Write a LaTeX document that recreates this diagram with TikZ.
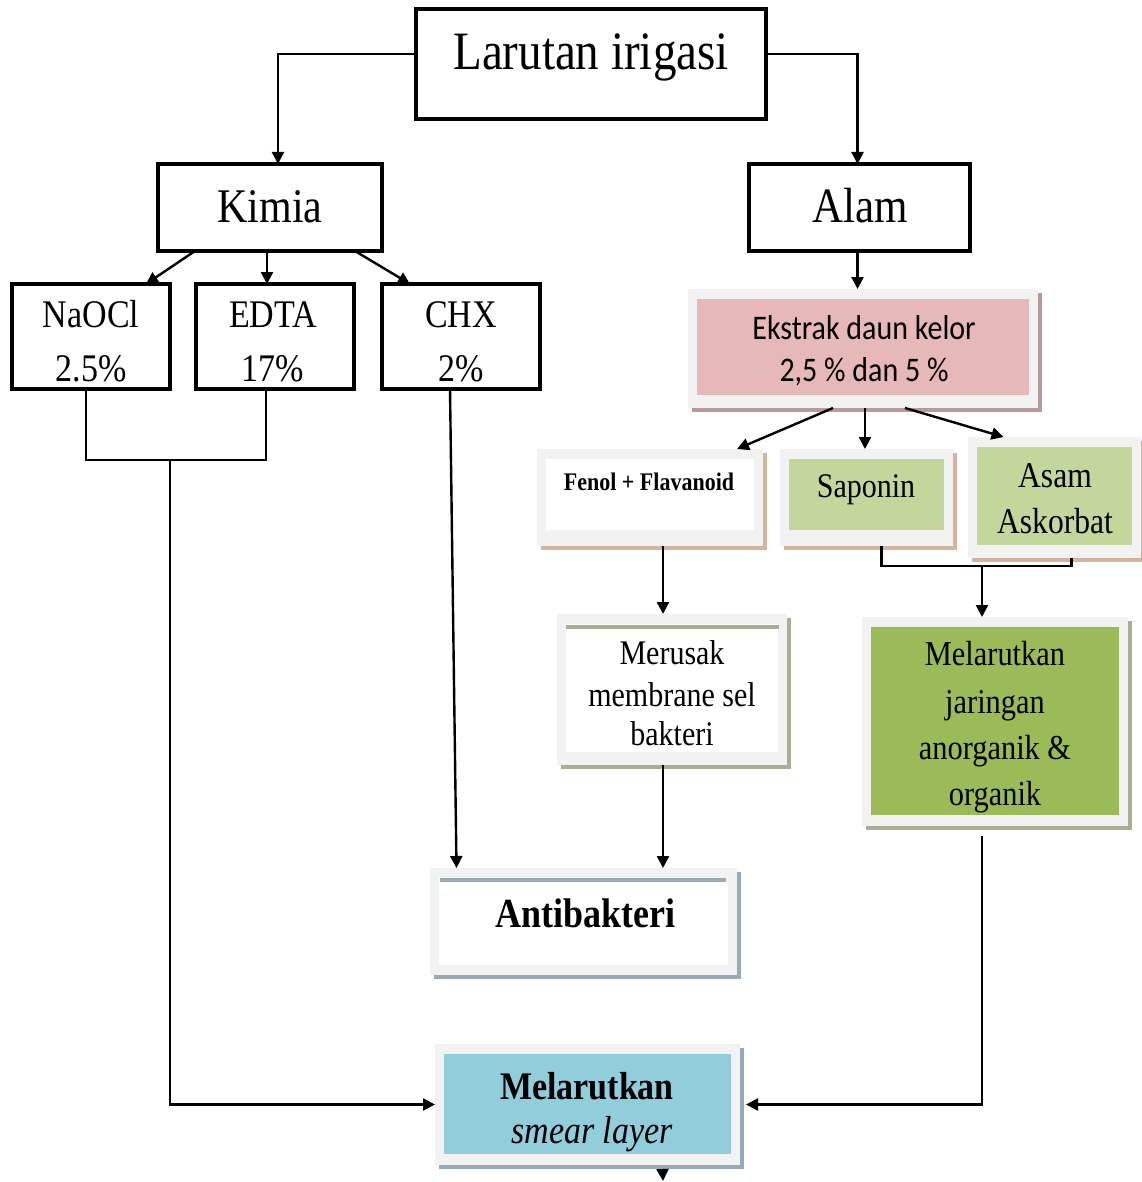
\documentclass[tikz,border=0pt]{standalone}
\usepackage{graphicx}
\usepackage{fontspec}
\setmainfont{Liberation Serif}
\newfontfamily\calib{Carlito}
\usetikzlibrary{arrows.meta,calc,fit}
\definecolor{frm}{HTML}{F2F2F2}
\definecolor{pinkc}{HTML}{E6B9B8}
\definecolor{lgreen}{HTML}{C3D69B}
\definecolor{dgreen}{HTML}{9BBB59}
\definecolor{lblue}{HTML}{92CDDC}
\definecolor{shpink}{HTML}{B89A9A}
\definecolor{shtan}{HTML}{D4B49C}
\definecolor{sholive}{HTML}{A9AF95}
\definecolor{shblue}{HTML}{93ACB5}
\newcommand{\vs}[1]{\scalebox{1}[1.15]{#1}}
\newcommand{\fs}[1]{\fontsize{#1}{#1}\selectfont}
% name, x1,y1,x2,y2 (outer), bottom margin, inner fill, shadow
\newcommand{\shbx}[8]{%
  \fill[#8] (#2+4,#3+4) rectangle (#4+4,#5+4);
  \node[fill=frm, inner sep=0pt, outer sep=0pt, fit={(#2,#3) (#4,#5)}] (#1) {};
  \fill[#7] ($(#1.north west)+(9,10)$) rectangle ($(#1.south east)+(-9,-#6)$);
}
\begin{document}
\begin{tikzpicture}[x=0.5pt,y=-0.5pt,
  pbox/.style={draw=black, line width=1.6pt, inner sep=0pt, outer sep=0pt},
  txt/.style={anchor=base, inner sep=0pt},
  arr/.style={line width=1.2pt, -{Triangle[length=6pt,width=6pt]}},
  ln/.style={line width=1.2pt}]
\useasboundingbox (0,0) rectangle (1141,1182);
\fill[white] (0,0) rectangle (1141,1182);

% plain boxes
\node[pbox, fit={(416,9) (766,119)}] (lar) {};
\node[pbox, fit={(158,164) (382,251)}] (kim) {};
\node[pbox, fit={(749,164) (970,251)}] (alam) {};
\node[pbox, fit={(12,284) (170,389)}] (na) {};
\node[pbox, fit={(196,284) (354,389)}] (ed) {};
\node[pbox, fit={(382,284) (540,389)}] (chx) {};

% shaded boxes
\shbx{ek}{688}{289}{1038}{408}{13}{pinkc}{shpink}
\shbx{fen}{537}{449}{763}{546}{16}{white}{shtan}
\shbx{sap}{780}{449}{953}{546}{16}{lgreen}{shtan}
\shbx{asam}{968}{437}{1141}{558}{13}{lgreen}{shtan}
\shbx{mer}{557}{614}{787}{765}{13}{white}{sholive}
\shbx{mel}{862}{617}{1128}{826}{11}{dgreen}{sholive}
\shbx{anti}{430}{868}{737}{975}{10}{white}{shblue}
\shbx{sm}{435}{1044}{740}{1165}{11}{lblue}{shblue}
\fill[sholive] (566,625) rectangle (779,629);
\fill[shblue] (440,878) rectangle (726,882);

% texts
\node[txt, font=\fs{23.5}] (tlar) at (591,70) {\vs{Larutan irigasi}};
\node[txt, font=\fs{21}] (tkim) at (270,222) {\vs{Kimia}};
\node[txt, font=\fs{21.5}] (talam) at (860,222) {\vs{Alam}};
\node[txt, font=\fs{17}] (tna1) at (91,327) {\vs{NaOCl}};
\node[txt, font=\fs{17}] (tna2) at (91,381) {\vs{2.5\%}};
\node[txt, font=\fs{17}] (ted1) at (273,327) {\vs{EDTA}};
\node[txt, font=\fs{17}] (ted2) at (273,381) {\vs{17\%}};
\node[txt, font=\fs{17}] (tchx1) at (461,327) {\vs{CHX}};
\node[txt, font=\fs{17}] (tchx2) at (461,381) {\vs{2\%}};
\node[txt, font=\calib\fs{15}] (tek1) at (864,339) {\vs{Ekstrak daun kelor}};
\node[txt, font=\calib\fs{15}] (tek2) at (864,381) {\vs{2,5 \% dan 5 \%}};
\node[txt, font=\bfseries\fs{11}] (tfen) at (649,490) {\vs{Fenol + Flavanoid}};
\node[txt, font=\fs{15}] (tsap) at (866,497) {\vs{Saponin}};
\node[txt, font=\fs{15.8}] (tas1) at (1055,487) {\vs{Asam}};
\node[txt, font=\fs{15.8}] (tas2) at (1055,533) {\vs{Askorbat}};
\node[txt, font=\fs{15}] (tme1) at (672,664) {\vs{Merusak}};
\node[txt, font=\fs{15}] (tme2) at (672,706) {\vs{membrane sel}};
\node[txt, font=\fs{15}] (tme3) at (672,745) {\vs{bakteri}};
\node[txt, font=\fs{15.2}] (tmj1) at (995,665) {\vs{Melarutkan}};
\node[txt, font=\fs{15.2}] (tmj2) at (995,713) {\vs{jaringan}};
\node[txt, font=\fs{15.2}] (tmj3) at (995,759) {\vs{anorganik \&}};
\node[txt, font=\fs{15.2}] (tmj4) at (995,805) {\vs{organik}};
\node[txt, font=\bfseries\fs{18}] (tanti) at (585,927) {\vs{Antibakteri}};
\node[txt, font=\bfseries\fs{17}] (tsm1) at (587,1099) {\vs{Melarutkan}};
\node[txt, font=\itshape\fs{17}] (tsm2) at (592,1143) {\vs{smear layer}};

% helper coordinates
\path ($(alam.south)+(-2,0)$) coordinate (a1);
\path ($(ek.south)+(2,0)$) coordinate (e2);
\path ($(mer.south)+(-9,0)$) coordinate (m1);

% connectors
\draw[arr] ($(lar.west)+(0,-10)$) -| ($(kim.north)+(8,0)$);
\draw[arr] ($(lar.east)+(0,-10)$) -| ($(alam.north)+(-2,0)$);
\draw[arr] ($(kim.south)+(-75,0)$) -- ($(na.north)+(55,0)$);
\draw[arr] ($(kim.south)+(-3,0)$) -- ($(ed.north)+(-8,0)$);
\draw[arr] ($(kim.south)+(85,0)$) -- ($(chx.north)+(-51,0)$);
\draw[arr] (a1) -- (a1 |- ek.north);
\draw[arr] ($(ek.south)+(-30,0)$) -- ($(fen.north)+(87,0)$);
\draw[arr] (e2) -- (e2 |- sap.north);
\draw[arr] ($(ek.south)+(42,0)$) -- ($(asam.north)+(-51,0)$);

% NaOCl + EDTA bracket to smear layer
\coordinate (brk) at (170,460);
\draw[ln] ($(na.south)+(-5,0)$) |- (brk) -| ($(ed.south)+(-9,0)$);
\draw[arr] (brk) |- (sm.west);

% CHX to antibakteri
\draw[arr] ($(chx.south)+(-11,0)$) -- ($(anti.north)+(-127,0)$);

% Fenol to merusak to antibakteri
\draw[arr] ($(fen.south)+(13,0)$) -- ($(mer.north)+(-9,0)$);
\draw[arr] (m1) -- (m1 |- anti.north);

% Saponin + Asam bracket to melarutkan
\coordinate (brk2) at (982,566);
\draw[ln] ($(sap.south)+(15,0)$) |- (brk2) -| ($(asam.south)+(17,0)$);
\draw[arr] (brk2) -- (brk2 |- mel.north);

% melarutkan jaringan to smear layer
\draw[arr] ($(mel.south)+(-13,10)$) |- ($(sm.east)+(6,0)$);

% bottom arrow
\coordinate (endc) at (663,1181);
\draw[arr] ($(sm.south)+(75,4)$) -- (endc);
\end{tikzpicture}
\end{document}
